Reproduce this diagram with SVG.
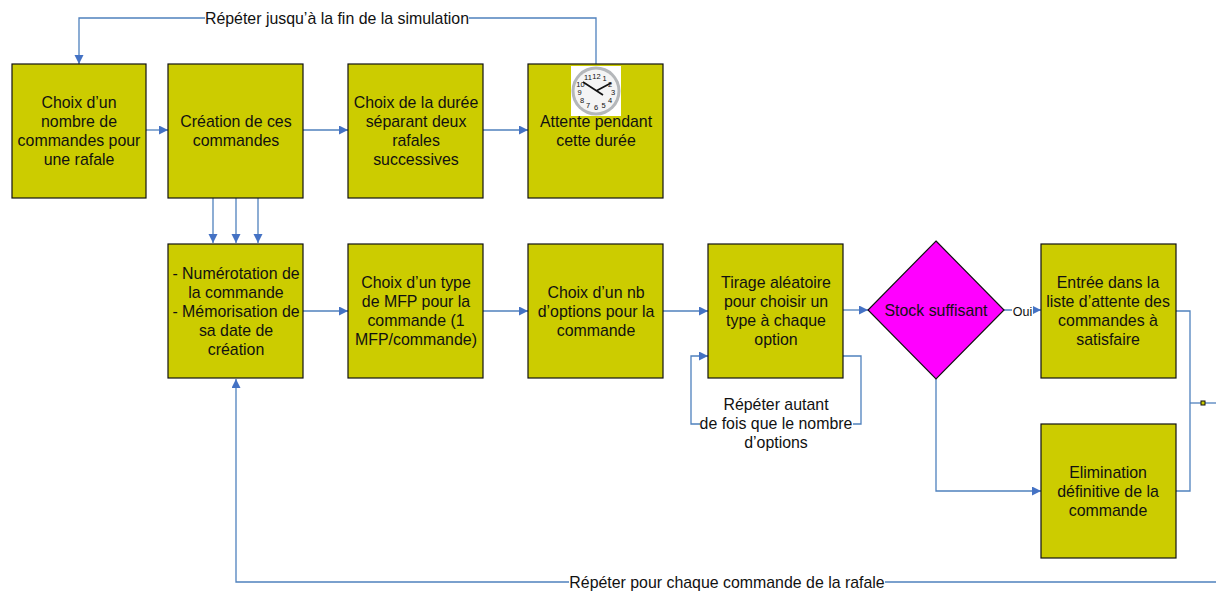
<svg xmlns="http://www.w3.org/2000/svg" width="1216" height="592" viewBox="0 0 1216 592">
<style>
.b{fill:#cccc00;stroke:#111;stroke-width:1.2}
.c{fill:none;stroke:#4f81bd;stroke-width:1.3}
text{font-family:"Liberation Sans",Arial,sans-serif;font-size:15.9px;fill:#111;text-anchor:middle;transform:translateY(.6px)}
.k text{font-size:7.5px}
.s{fill:#fff}
</style>
<defs>
<marker id="a" markerUnits="userSpaceOnUse" markerWidth="10" markerHeight="10" refX="9" refY="4.5" orient="auto"><path d="M0 0L9 4.5L0 9Z" fill="#4472c4"/></marker>
</defs>
<rect width="1216" height="592" fill="#fff"/>
<g id="connectors">
<path class="c" d="M596 64V18H79V64" marker-end="url(#a)"/>
<path class="c" d="M146 130H168" marker-end="url(#a)"/>
<path class="c" d="M303 130H348" marker-end="url(#a)"/>
<path class="c" d="M483 130H528" marker-end="url(#a)"/>
<path class="c" d="M213 198V243" marker-end="url(#a)"/>
<path class="c" d="M236 198V243" marker-end="url(#a)"/>
<path class="c" d="M258 198V243" marker-end="url(#a)"/>
<path class="c" d="M303 311H348" marker-end="url(#a)"/>
<path class="c" d="M483 311H528" marker-end="url(#a)"/>
<path class="c" d="M663 311H708" marker-end="url(#a)"/>
<path class="c" d="M843 310H868" marker-end="url(#a)"/>
<path class="c" d="M843 356H861V424H691V356H708" marker-end="url(#a)"/>
<path class="c" d="M1004 310H1041" marker-end="url(#a)"/>
<path class="c" d="M936 378V491H1041" marker-end="url(#a)"/>
<path class="c" d="M1176 311H1190V491H1176"/>
<path class="c" d="M1190 403H1216"/>
<path class="c" d="M1216 582H236V379" marker-end="url(#a)"/>
</g>
<g id="n1"><rect class="b" x="12" y="64" width="134" height="134"/><text x="79" y="107">Choix d’un</text><text x="79" y="126">nombre de</text><text x="79" y="145">commandes pour</text><text x="79" y="164">une rafale</text></g>
<g id="n2"><rect class="b" x="168" y="64" width="135" height="134"/><text x="236" y="126">Création de ces</text><text x="236" y="145">commandes</text></g>
<g id="n3"><rect class="b" x="348" y="64" width="135" height="134"/><text x="416" y="107">Choix de la durée</text><text x="416" y="126">séparant deux</text><text x="416" y="145">rafales</text><text x="416" y="164">successives</text></g>
<g id="n4"><rect class="b" x="528" y="64" width="135" height="134"/>
<g id="clock" class="k"><rect x="571" y="66" width="50" height="50" fill="#fff"/><circle cx="596" cy="91" r="24.500" fill="#b4b7ba"/><circle cx="596" cy="91" r="21.500" fill="#f4f4f4"/>
<path d="M583 82L603 95M596 91L611 83" stroke="#111" stroke-width="1.700" fill="none"/>
<text x="596.500" y="78">12</text><text x="604.500" y="80">1</text><text x="610" y="86">2</text><text x="613" y="94">3</text><text x="610" y="102">4</text><text x="603.500" y="107">5</text><text x="596" y="109">6</text><text x="588" y="107">7</text><text x="582" y="102">8</text><text x="579.500" y="94">9</text><text x="580.500" y="86">10</text><text x="588" y="79.500">11</text></g>
<text x="596" y="126">Attente pendant</text><text x="596" y="145">cette durée</text></g>
<g id="n5"><rect class="b" x="168" y="244" width="135" height="134"/><text x="236" y="278">- Numérotation de</text><text x="236" y="297">la commande</text><text x="236" y="316">- Mémorisation de</text><text x="236" y="335">sa date de</text><text x="236" y="354">création</text></g>
<g id="n6"><rect class="b" x="348" y="244" width="135" height="134"/><text x="416" y="287">Choix d’un type</text><text x="416" y="306">de MFP pour la</text><text x="416" y="325">commande (1</text><text x="416" y="344">MFP/commande)</text></g>
<g id="n7"><rect class="b" x="528" y="244" width="135" height="134"/><text x="596" y="297">Choix d’un nb</text><text x="596" y="316">d’options pour la</text><text x="596" y="335">commande</text></g>
<g id="n8"><rect class="b" x="708" y="244" width="135" height="134"/><text x="776" y="287">Tirage aléatoire</text><text x="776" y="306">pour choisir un</text><text x="776" y="325">type à chaque</text><text x="776" y="344">option</text></g>
<g id="n9"><path d="M936 241L1004 310L936 379L868 310Z" fill="#ff00ff" stroke="#111" stroke-width="1.2"/><text x="936" y="315">Stock suffisant</text></g>
<g id="n10"><rect class="b" x="1041" y="244" width="135" height="134"/><text x="1108" y="287">Entrée dans la</text><text x="1108" y="306">liste d’attente des</text><text x="1108" y="325">commandes à</text><text x="1108" y="344">satisfaire</text></g>
<g id="n11"><rect class="b" x="1041" y="424" width="135" height="134"/><text x="1108" y="477">Elimination</text><text x="1108" y="496">définitive de la</text><text x="1108" y="515">commande</text></g>
<g id="junction"><rect x="1201" y="401" width="4" height="4" fill="#cccc00" stroke="#111"/></g>
<g id="labels">
<rect class="s" x="205" y="10" width="264" height="16"/><text x="337" y="23">Répéter jusqu’à la fin de la simulation</text>
<rect class="s" x="569" y="574" width="316" height="16"/><text x="727" y="587">Répéter pour chaque commande de la rafale</text>
<rect class="s" x="700" y="396" width="153" height="54"/><text x="776" y="409">Répéter autant</text><text x="776" y="428">de fois que le nombre</text><text x="776" y="447">d’options</text>
<rect class="s" x="1012" y="304" width="21" height="13"/><text x="1022.500" y="315" style="font-size:12.5px">Oui</text>
</g>
</svg>
